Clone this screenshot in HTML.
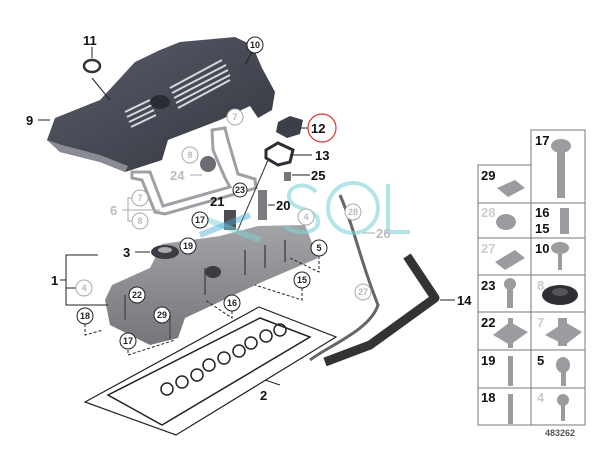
<!DOCTYPE html>
<html><head><meta charset="utf-8"><style>
html,body{margin:0;padding:0;background:#fff;width:600px;height:450px;overflow:hidden}
svg{display:block}
text{font-family:"Liberation Sans",Arial,sans-serif;font-weight:bold}
</style></head><body>
<svg width="600" height="450" viewBox="0 0 600 450">
<defs>
<linearGradient id="cov" x1="0" y1="0" x2="1" y2="1">
<stop offset="0" stop-color="#5a5e6a"/><stop offset="1" stop-color="#33363e"/></linearGradient>
<linearGradient id="vc" x1="0" y1="0" x2="0" y2="1">
<stop offset="0" stop-color="#a2a4a8"/><stop offset="1" stop-color="#747679"/></linearGradient>
</defs>
<!-- engine cover -->
<path d="M47,140 L55,118 L100,100 L135,62 L160,50 L180,42 L235,37 L252,45 L262,68 L275,92 L272,110 L258,118 L250,106 L220,120 L168,140 L162,160 L125,172 L100,162 L60,152 Z" fill="url(#cov)"/>
<path d="M47,140 L60,152 L100,162 L125,172 L128,166 L100,155 L62,145 Z" fill="#8a8c94"/>
<g stroke="#d8d8dc" stroke-width="2">
<line x1="170" y1="88" x2="222" y2="60"/><line x1="172" y1="93" x2="226" y2="65"/><line x1="174" y1="98" x2="228" y2="70"/><line x1="176" y1="103" x2="230" y2="75"/><line x1="178" y1="108" x2="230" y2="80"/>
<line x1="125" y1="112" x2="150" y2="100"/><line x1="127" y1="117" x2="152" y2="105"/><line x1="129" y1="122" x2="154" y2="110"/><line x1="131" y1="127" x2="156" y2="115"/>
</g>
<ellipse cx="160" cy="102" rx="10" ry="7" fill="#2a2c33"/>
<!-- ring 11 -->
<ellipse cx="92" cy="66" rx="8" ry="6" fill="none" stroke="#333" stroke-width="2.5"/>
<!-- bracket -->
<path d="M132,172 L150,172 L163,206 L230,187 L225,178 L213,150 L212,130 L225,128 L228,140 L238,174 L255,179 L256,188 L165,214 L155,212 L142,180 L132,178 Z" fill="none" stroke="#9ea0a5" stroke-width="3"/>
<ellipse cx="208" cy="164" rx="8" ry="8" fill="#6a6c72"/>
<!-- 12, 13 -->
<path d="M278,122 L290,116 L303,120 L300,134 L287,138 L276,132 Z" fill="#3c3f47"/>
<path d="M266,150 L278,143 L293,150 L290,162 L278,165 L266,158 Z" fill="none" stroke="#2c2e34" stroke-width="3"/>
<!-- 25 clip, 20, 21 -->
<rect x="284" y="172" width="7" height="9" fill="#777"/>
<rect x="258" y="190" width="9" height="30" fill="#7a7c80"/>
<rect x="224" y="210" width="12" height="20" fill="#4a4c52"/>
<line x1="268" y1="160" x2="225" y2="260" stroke="#333" stroke-width="1"/>
<!-- valve cover -->
<path d="M105,300 L112,285 L150,268 L162,244 L220,236 L258,226 L305,225 L318,258 L262,282 L185,318 L178,338 L150,345 L110,325 Z" fill="url(#vc)"/>
<g stroke="#5a5c60" stroke-width="2" fill="none">
<line x1="245" y1="250" x2="245" y2="275"/><line x1="265" y1="245" x2="265" y2="268"/><line x1="285" y1="240" x2="285" y2="262"/><line x1="205" y1="268" x2="205" y2="295"/>
<line x1="125" y1="295" x2="125" y2="320"/><line x1="170" y1="315" x2="170" y2="340"/>
</g>
<ellipse cx="213" cy="272" rx="8" ry="6" fill="#3a3c40"/>
<!-- 3 ring -->
<ellipse cx="165" cy="252" rx="14" ry="7" fill="#3a3c42"/><ellipse cx="165" cy="250" rx="7" ry="3" fill="#aaa"/>
<!-- gasket -->
<path d="M85,402 L259,307 L336,337 L176,435 Z" fill="none" stroke="#222" stroke-width="1.2"/>
<path d="M108,395 L260,318 L310,337 L162,425 Z" fill="none" stroke="#222" stroke-width="1.5"/>
<g fill="none" stroke="#222" stroke-width="1.5">
<circle cx="167" cy="389" r="6"/><circle cx="182" cy="382" r="6"/><circle cx="197" cy="375" r="6"/>
<circle cx="209" cy="365" r="6"/><circle cx="224" cy="358" r="6"/><circle cx="239" cy="351" r="6"/>
<circle cx="251" cy="343" r="6"/><circle cx="266" cy="336" r="6"/><circle cx="280" cy="330" r="6"/>
</g>
<!-- hoses -->
<path d="M340,195 C355,230 360,260 378,305 C370,330 330,345 310,360" fill="none" stroke="#666" stroke-width="3"/>
<path d="M407,256 L435,298 L370,345 L325,362" fill="none" stroke="#333" stroke-width="9" stroke-linejoin="round"/>
<!-- watermark -->
<g fill="none" stroke="#7fd4d8" stroke-width="4" opacity="0.6">
<path d="M316,192 C305,180 287,186 289,198 C291,210 316,208 318,220 C320,234 296,236 285,226"/>
<circle cx="353" cy="208" r="25"/><path d="M388,184 L388,232 L410,232"/>
</g>
<path d="M195,215 L260,240" stroke="#7fd4d8" stroke-width="6" opacity="0.5"/>
<path d="M200,235 L250,215" stroke="#4aa8d8" stroke-width="6" opacity="0.45"/>
<!-- leader lines -->
<g stroke="#222" stroke-width="1" fill="none">
<line x1="38" y1="120" x2="50" y2="120"/><line x1="92" y1="47" x2="92" y2="58"/><line x1="92" y1="78" x2="110" y2="100"/>
<line x1="252" y1="52" x2="245" y2="65"/><line x1="300" y1="128" x2="308" y2="128"/><line x1="290" y1="155" x2="312" y2="155"/>
<line x1="292" y1="175" x2="310" y2="175"/><line x1="268" y1="205" x2="275" y2="205"/>
<line x1="135" y1="252" x2="150" y2="252"/><path d="M98,255 L66,255 L66,305 L108,305"/><line x1="60" y1="280" x2="66" y2="280"/><line x1="66" y1="288" x2="76" y2="288"/>
<line x1="440" y1="300" x2="455" y2="300"/><line x1="280" y1="385" x2="265" y2="380"/>
<path d="M85,324 L85,335 L103,330" stroke-dasharray="3,2"/><path d="M128,350 L128,355 L175,340" stroke-dasharray="3,2"/>
<path d="M319,256 L319,272 L290,258" stroke-dasharray="3,2"/><path d="M302,288 L302,300 L255,285" stroke-dasharray="3,2"/>
<path d="M232,311 L232,318 L205,300" stroke-dasharray="3,2"/>
</g>
<g stroke="#aaa" stroke-width="1" fill="none"><path d="M140,198 L128,198 L128,221 L140,221"/><line x1="122" y1="210" x2="160" y2="210"/><line x1="363" y1="233" x2="375" y2="233"/><line x1="190" y1="175" x2="202" y2="175"/></g>
<!-- circled labels -->
<g font-size="9" text-anchor="middle">
<g fill="#fff" stroke="#222" stroke-width="1">
<circle cx="255" cy="45" r="8"/><circle cx="240" cy="190" r="7"/><circle cx="200" cy="220" r="8"/><circle cx="188" cy="246" r="8"/>
<circle cx="319" cy="248" r="8"/><circle cx="302" cy="280" r="8"/><circle cx="232" cy="303" r="8"/><circle cx="137" cy="295" r="8"/>
<circle cx="162" cy="315" r="8"/><circle cx="85" cy="316" r="8"/><circle cx="128" cy="341" r="8"/>
</g>
<g fill="#fff" stroke="#aaa" stroke-width="1">
<circle cx="235" cy="117" r="8"/><circle cx="190" cy="155" r="8"/><circle cx="140" cy="198" r="8"/><circle cx="140" cy="221" r="8"/>
<circle cx="84" cy="288" r="8"/><circle cx="353" cy="212" r="8"/><circle cx="363" cy="292" r="8"/><circle cx="306" cy="217" r="8"/>
</g>
<circle cx="322" cy="128" r="14" fill="none" stroke="#d33" stroke-width="1.2"/>
<g fill="#222"><text x="255" y="48">10</text><text x="240" y="193">23</text><text x="200" y="223">17</text><text x="188" y="249">19</text><text x="319" y="251">5</text><text x="302" y="283">15</text><text x="232" y="306">16</text><text x="137" y="298">22</text><text x="162" y="318">29</text><text x="85" y="319">18</text><text x="128" y="344">17</text></g>
<g fill="#bbb"><text x="235" y="120">7</text><text x="190" y="158">8</text><text x="140" y="201">7</text><text x="140" y="224">8</text><text x="84" y="291">4</text><text x="353" y="215">28</text><text x="363" y="295">27</text><text x="306" y="220">4</text></g>
</g>
<g font-size="13" fill="#111">
<text x="26" y="125">9</text><text x="83" y="45">11</text><text x="311" y="133">12</text><text x="315" y="160">13</text><text x="311" y="180">25</text>
<text x="210" y="206">21</text><text x="276" y="210">20</text><text x="123" y="257">3</text><text x="51" y="285">1</text><text x="457" y="305">14</text><text x="260" y="400">2</text>
</g>
<g font-size="13" fill="#bbb"><text x="110" y="215">6</text><text x="170" y="180">24</text><text x="376" y="238">26</text></g>
<!-- right parts grid -->
<g stroke="#777" stroke-width="1" fill="none">
<path d="M531,130 L585,130 L585,425 L478,425 L478,165 L531,165 Z"/>
<line x1="531" y1="130" x2="531" y2="425"/>
<line x1="478" y1="203" x2="585" y2="203"/><line x1="478" y1="238" x2="585" y2="238"/><line x1="478" y1="275" x2="585" y2="275"/>
<line x1="478" y1="312" x2="585" y2="312"/><line x1="478" y1="350" x2="585" y2="350"/><line x1="478" y1="388" x2="585" y2="388"/>
</g>
<g fill="#9a9ca0">
<rect x="557" y="152" width="8" height="46"/><ellipse cx="561" cy="146" rx="10" ry="7"/>
<path d="M497,188 L515,180 L525,188 L508,197 Z"/>
<ellipse cx="506" cy="222" rx="10" ry="8"/><rect x="560" y="208" width="9" height="26"/>
<path d="M495,262 L515,250 L525,258 L505,270 Z"/><ellipse cx="560" cy="248" rx="9" ry="6"/><rect x="558" y="252" width="4" height="18"/>
<ellipse cx="510" cy="284" rx="6" ry="6"/><rect x="507" y="288" width="6" height="20"/>
<path d="M493,335 L510,322 L528,332 L510,345 Z"/><path d="M545,335 L565,322 L582,332 L565,345 Z"/>
<rect x="508" y="318" width="5" height="30"/><rect x="558" y="318" width="9" height="28"/>
<rect x="508" y="356" width="5" height="30"/><ellipse cx="563" cy="365" rx="7" ry="8"/><rect x="561" y="372" width="5" height="14"/>
<rect x="508" y="394" width="5" height="30"/><ellipse cx="563" cy="400" rx="6" ry="6"/><rect x="561" y="405" width="4" height="16"/>
</g>
<ellipse cx="560" cy="295" rx="18" ry="10" fill="#2d2f33"/><ellipse cx="560" cy="292" rx="8" ry="4" fill="#555"/>
<g font-size="13" fill="#111">
<text x="535" y="145">17</text><text x="481" y="180">29</text><text x="535" y="217">16</text><text x="535" y="233">15</text>
<text x="535" y="253">10</text><text x="481" y="290">23</text><text x="481" y="327">22</text><text x="481" y="365">19</text>
<text x="537" y="365">5</text><text x="481" y="402">18</text>
</g>
<g font-size="13" fill="#ccc"><text x="481" y="217">28</text><text x="481" y="253">27</text><text x="537" y="290">8</text><text x="537" y="327">7</text><text x="537" y="402">4</text></g>
<text x="545" y="436" font-size="9" font-weight="normal" fill="#555">483262</text>
</svg>
</body></html>
